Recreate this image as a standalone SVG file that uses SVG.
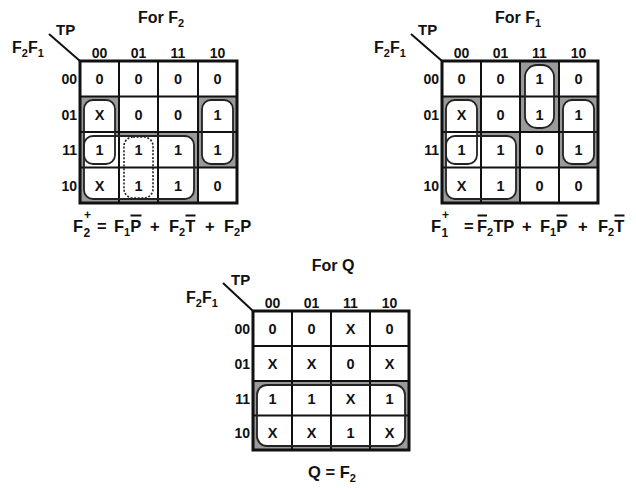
<svg xmlns="http://www.w3.org/2000/svg" width="636" height="488" viewBox="0 0 636 488">
<style>
text{font-family:"Liberation Sans",Arial,sans-serif;font-weight:bold;fill:#111}
.t{font-size:16px}
.h{font-size:14px;text-anchor:middle}
.r{font-size:14px;text-anchor:end}
.c{font-size:14.5px;text-anchor:middle}
.s{font-size:11px}
.eq{font-size:16.5px}
.sh{fill:#9a9a9a}
.wi{fill:#fff}
.grid{fill:none;stroke:#111;stroke-width:2}
.out{fill:none;stroke:#111;stroke-width:3}
.loop{fill:none;stroke:#222;stroke-width:1.8}
.dot{fill:none;stroke:#222;stroke-width:1.6;stroke-dasharray:2 1.6}
.ov{stroke:#111;stroke-width:2}
.diag{stroke:#111;stroke-width:2}
</style>
<rect width="636" height="488" fill="#fff"/>

<g id="connectors">
<line class="diag" x1="49" y1="34" x2="80" y2="61"/>
<line class="diag" x1="411" y1="34" x2="442" y2="61"/>
<line class="diag" x1="223" y1="283" x2="253" y2="311"/>
</g>

<g id="kmap-F2">
<text class="t" x="161" y="23" text-anchor="middle">For F<tspan class="s" dy="4">2</tspan></text>
<text style="font-size:15px" x="56" y="35">TP</text>
<text style="font-size:16px" x="12" y="53">F<tspan class="s" dy="4">2</tspan><tspan dy="-4">F</tspan><tspan class="s" dy="4">1</tspan></text>
<text class="h" x="99.5" y="58">00</text><text class="h" x="138.5" y="58">01</text><text class="h" x="178" y="58">11</text><text class="h" x="217.5" y="58">10</text>
<text class="r" x="77" y="84">00</text><text class="r" x="77" y="119.5">01</text><text class="r" x="77" y="155">11</text><text class="r" x="77" y="190.5">10</text>
<rect class="sh" x="80" y="96.5" width="39" height="106.5"/>
<rect class="sh" x="198" y="96.5" width="39" height="71"/>
<rect class="sh" x="80" y="132" width="118" height="71"/>
<rect class="wi" x="84" y="100" width="31" height="64" rx="9"/>
<rect class="wi" x="202" y="100" width="31" height="64" rx="9"/>
<rect class="wi" x="84" y="136" width="110" height="63" rx="9"/>
<path class="grid" d="M119 61V203M158 61V203M198 61V203M80 96.5H237M80 132H237M80 167.5H237"/>
<rect class="out" x="80" y="61" width="157" height="142"/>
<rect class="loop" x="84" y="100" width="31" height="64" rx="9"/>
<rect class="loop" x="202" y="100" width="31" height="64" rx="9"/>
<rect class="loop" x="84" y="136" width="110" height="63" rx="9"/>
<rect class="dot" x="124" y="137" width="29" height="61" rx="9"/>
<text class="c" x="99.5" y="84">0</text><text class="c" x="138.5" y="84">0</text><text class="c" x="178" y="84">0</text><text class="c" x="217.5" y="84">0</text>
<text class="c" x="99.5" y="119.5">X</text><text class="c" x="138.5" y="119.5">0</text><text class="c" x="178" y="119.5">0</text><text class="c" x="217.5" y="119.5">1</text>
<text class="c" x="99.5" y="155">1</text><text class="c" x="138.5" y="155">1</text><text class="c" x="178" y="155">1</text><text class="c" x="217.5" y="155">1</text>
<text class="c" x="99.5" y="190.5">X</text><text class="c" x="138.5" y="190.5">1</text><text class="c" x="178" y="190.5">1</text><text class="c" x="217.5" y="190.5">0</text>
</g>

<g id="eq-F2">
<text class="eq" x="73" y="232">F</text>
<text style="font-size:12px" x="83.5" y="237">2</text>
<text style="font-size:12px" x="84" y="219">+</text>
<text class="eq" x="97" y="232">=</text>
<text class="eq" x="114" y="232">F<tspan class="s" dy="4">1</tspan><tspan dy="-4">P</tspan></text>
<line class="ov" x1="130.5" y1="215.5" x2="141.5" y2="215.5"/>
<text class="eq" x="150" y="232">+</text>
<text class="eq" x="169" y="232">F<tspan class="s" dy="4">2</tspan><tspan dy="-4">T</tspan></text>
<line class="ov" x1="185.5" y1="215.5" x2="195.5" y2="215.5"/>
<text class="eq" x="205" y="232">+</text>
<text class="eq" x="224" y="232">F<tspan class="s" dy="4">2</tspan><tspan dy="-4">P</tspan></text>
</g>

<g id="kmap-F1">
<text class="t" x="518" y="23" text-anchor="middle">For F<tspan class="s" dy="4">1</tspan></text>
<text style="font-size:15px" x="418" y="35">TP</text>
<text style="font-size:16px" x="374" y="53">F<tspan class="s" dy="4">2</tspan><tspan dy="-4">F</tspan><tspan class="s" dy="4">1</tspan></text>
<text class="h" x="461.5" y="58">00</text><text class="h" x="500.5" y="58">01</text><text class="h" x="539.5" y="58">11</text><text class="h" x="578.5" y="58">10</text>
<text class="r" x="439" y="84">00</text><text class="r" x="439" y="119.5">01</text><text class="r" x="439" y="155">11</text><text class="r" x="439" y="190.5">10</text>
<rect class="sh" x="520" y="61" width="39" height="71"/>
<rect class="sh" x="442" y="96.5" width="39" height="106.5"/>
<rect class="sh" x="559" y="96.5" width="39" height="71"/>
<rect class="sh" x="442" y="132" width="78" height="71"/>
<rect class="wi" x="525" y="65" width="29" height="63" rx="12"/>
<rect class="wi" x="446" y="100" width="31" height="64" rx="9"/>
<rect class="wi" x="563" y="100" width="31" height="64" rx="9"/>
<rect class="wi" x="446" y="136" width="70" height="63" rx="9"/>
<path class="grid" d="M481 61V203M520 61V203M559 61V203M442 96.5H598M442 132H598M442 167.5H598"/>
<rect class="out" x="442" y="61" width="156" height="142"/>
<rect class="loop" x="525" y="65" width="29" height="63" rx="12"/>
<rect class="loop" x="446" y="100" width="31" height="64" rx="9"/>
<rect class="loop" x="563" y="100" width="31" height="64" rx="9"/>
<rect class="loop" x="446" y="136" width="70" height="63" rx="9"/>
<text class="c" x="461.5" y="84">0</text><text class="c" x="500.5" y="84">0</text><text class="c" x="539.5" y="84">1</text><text class="c" x="578.5" y="84">0</text>
<text class="c" x="461.5" y="119.5">X</text><text class="c" x="500.5" y="119.5">0</text><text class="c" x="539.5" y="119.5">1</text><text class="c" x="578.5" y="119.5">1</text>
<text class="c" x="461.5" y="155">1</text><text class="c" x="500.5" y="155">1</text><text class="c" x="539.5" y="155">0</text><text class="c" x="578.5" y="155">1</text>
<text class="c" x="461.5" y="190.5">X</text><text class="c" x="500.5" y="190.5">1</text><text class="c" x="539.5" y="190.5">0</text><text class="c" x="578.5" y="190.5">0</text>
</g>

<g id="eq-F1">
<text class="eq" x="431" y="232">F</text>
<text style="font-size:12px" x="441.5" y="237">1</text>
<text style="font-size:12px" x="442" y="219">+</text>
<text class="eq" x="464" y="232">=</text>
<text class="eq" x="477" y="232">F<tspan class="s" dy="4">2</tspan><tspan dy="-4">TP</tspan></text>
<line class="ov" x1="477.5" y1="215.5" x2="487" y2="215.5"/>
<text class="eq" x="522" y="232">+</text>
<text class="eq" x="540" y="232">F<tspan class="s" dy="4">1</tspan><tspan dy="-4">P</tspan></text>
<line class="ov" x1="556.5" y1="215.5" x2="567.5" y2="215.5"/>
<text class="eq" x="578" y="232">+</text>
<text class="eq" x="598" y="232">F<tspan class="s" dy="4">2</tspan><tspan dy="-4">T</tspan></text>
<line class="ov" x1="614.5" y1="215.5" x2="624.5" y2="215.5"/>
</g>

<g id="kmap-Q">
<text class="t" x="333" y="271" text-anchor="middle">For Q</text>
<text style="font-size:15px" x="231" y="285">TP</text>
<text style="font-size:16px" x="186" y="303">F<tspan class="s" dy="4">2</tspan><tspan dy="-4">F</tspan><tspan class="s" dy="4">1</tspan></text>
<text class="h" x="272.5" y="308">00</text><text class="h" x="311.5" y="308">01</text><text class="h" x="350.5" y="308">11</text><text class="h" x="389.5" y="308">10</text>
<text class="r" x="250" y="334">00</text><text class="r" x="250" y="369">01</text><text class="r" x="250" y="403.5">11</text><text class="r" x="250" y="438">10</text>
<rect class="sh" x="253" y="381" width="156" height="69"/>
<rect class="wi" x="257" y="385" width="148" height="61" rx="10"/>
<path class="grid" d="M292 311V450M331 311V450M370 311V450M253 346H409M253 381H409M253 415.5H409"/>
<rect class="out" x="253" y="311" width="156" height="139"/>
<rect class="loop" x="257" y="385" width="148" height="61" rx="10"/>
<text class="c" x="272.5" y="334">0</text><text class="c" x="311.5" y="334">0</text><text class="c" x="350.5" y="334">X</text><text class="c" x="389.5" y="334">0</text>
<text class="c" x="272.5" y="369">X</text><text class="c" x="311.5" y="369">X</text><text class="c" x="350.5" y="369">0</text><text class="c" x="389.5" y="369">X</text>
<text class="c" x="272.5" y="403.5">1</text><text class="c" x="311.5" y="403.5">1</text><text class="c" x="350.5" y="403.5">X</text><text class="c" x="389.5" y="403.5">1</text>
<text class="c" x="272.5" y="438">X</text><text class="c" x="311.5" y="438">X</text><text class="c" x="350.5" y="438">1</text><text class="c" x="389.5" y="438">X</text>
</g>

<g id="eq-Q">
<text class="eq" x="308" y="478">Q = F<tspan class="s" dy="4">2</tspan></text>
</g>
</svg>
